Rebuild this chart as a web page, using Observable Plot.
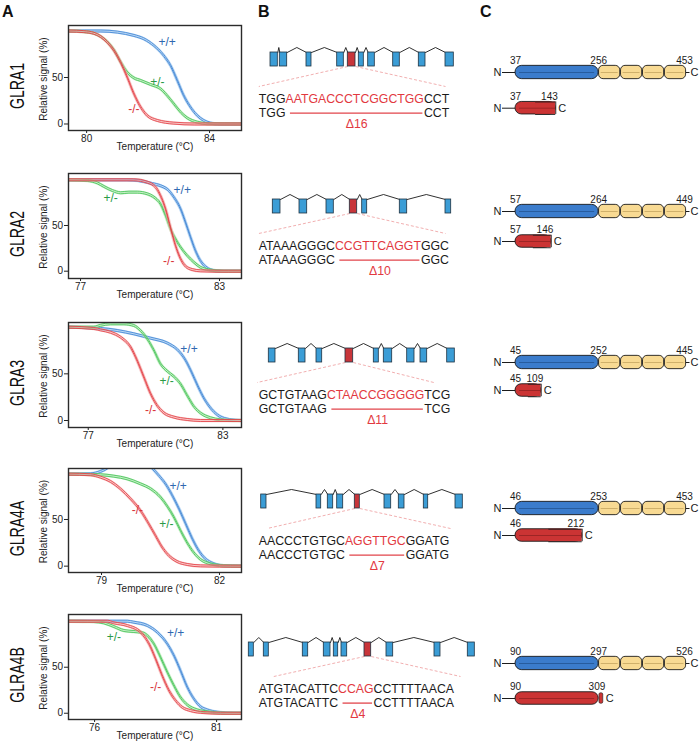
<!DOCTYPE html>
<html><head><meta charset="utf-8">
<script src="https://cdn.jsdelivr.net/npm/d3@7"></script>
<script src="https://cdn.jsdelivr.net/npm/@observablehq/plot@0.6"></script>
<style>
body{margin:0;background:#fff;}
#fig{position:relative;width:700px;height:744px;overflow:hidden;background:#fff;font-family:"Liberation Sans",Arial,Helvetica,sans-serif;}
.cell{position:absolute;}
.letter{position:absolute;font-weight:bold;font-size:16px;line-height:16px;color:#111;}
</style></head><body><div id="fig"></div>
<script>
// ---------------- DATA ----------------
const genes = ["GLRA1", "GLRA2", "GLRA3", "GLRA4A", "GLRA4B"];
const genotypes = ["+/+", "+/-", "-/-"];

// Panel A: melt curves [temperature °C, relative signal %]
const melt_GLRA1_wt = [[79.42,100],[80.46,100],[81.0,98.8],[81.54,95.2],[81.86,91.6],[82.19,84.4],[82.51,73.6],[82.73,62.9],[82.95,46.8],[83.16,30.6],[83.38,18.1],[83.6,9.1],[83.81,3.8],[84.03,0.9],[84.3,0],[85.04,0]];
const melt_GLRA1_het = [[79.42,100],[79.91,99.3],[80.24,97.5],[80.46,94],[80.67,88.5],[80.89,79.5],[81.11,66.5],[81.32,55.7],[81.54,49.5],[81.76,46.8],[82.08,42.5],[82.41,37.8],[82.62,30.6],[82.84,21.7],[83.06,12.7],[83.27,6.6],[83.6,2],[83.92,0.3],[85.04,0]];
const melt_GLRA1_ko = [[79.42,100],[79.91,99.3],[80.24,97.5],[80.46,94],[80.67,88],[80.89,79],[81.11,66],[81.32,50.4],[81.54,32.4],[81.76,18.1],[81.97,9.1],[82.3,3.8],[82.84,0.9],[83.5,0],[85.04,0]];

const melt_GLRA2_wt = [[76.48,100],[79.0,100],[80.02,96.4],[80.74,89.8],[81.03,81],[81.32,68.2],[81.53,53.6],[81.75,37.2],[81.96,22.6],[82.17,11.7],[82.46,3.6],[82.75,0.7],[83.1,0],[83.95,0]];
const melt_GLRA2_het = [[76.48,100],[77.29,99.3],[77.72,96.7],[78.01,92.7],[78.37,88.3],[78.73,85.8],[79.09,86.5],[79.45,86.5],[79.88,84.7],[80.17,81],[80.45,73.7],[80.67,61],[80.88,46.4],[81.1,35.4],[81.32,26.3],[81.6,17.2],[81.89,9.9],[82.17,4.4],[82.53,1.5],[82.89,0.4],[83.2,0],[83.95,0]];
const melt_GLRA2_ko = [[76.48,100],[79.3,100],[79.88,97.4],[80.24,92],[80.45,82.8],[80.67,68.2],[80.88,48.2],[81.1,28.1],[81.32,13.5],[81.53,5.5],[81.82,1.8],[82.17,0.4],[82.8,0],[83.95,0]];

const melt_GLRA3_wt = [[76.12,100],[77.55,98.6],[78.29,96.4],[79.03,92.9],[79.78,88.2],[80.52,83],[80.97,76],[81.3,66],[81.6,52],[81.9,36],[82.2,22],[82.5,12],[82.85,4.5],[83.3,1],[83.83,0]];
const melt_GLRA3_het = [[76.12,100],[77.25,100],[77.55,102],[77.99,103.6],[78.59,103.6],[79.03,101.8],[79.33,96.4],[79.63,87.5],[79.93,75],[80.22,60.7],[80.52,52.9],[80.82,47.1],[81.11,39.3],[81.41,26.8],[81.71,15],[82.01,7.9],[82.45,2.9],[82.9,0.7],[83.49,0],[83.83,0]];
const melt_GLRA3_ko = [[76.12,100],[77.25,98.6],[77.55,97.1],[77.99,94.6],[78.44,89.3],[78.89,78.6],[79.18,64.3],[79.48,46.4],[79.78,28.6],[80.07,16.1],[80.37,8.2],[80.82,3.6],[81.41,1.1],[82.0,0],[83.83,0]];

const melt_GLRA4A_wt = [[78.16,98.6],[78.72,98.9],[78.97,101.4],[79.14,105],[79.31,112],[79.65,120],[79.99,118],[80.29,105],[80.46,97],[80.63,88],[80.8,75.7],[80.97,61.4],[81.14,45.4],[81.31,29.3],[81.47,16.8],[81.64,7.9],[81.86,2.5],[82.11,0.4],[82.56,0]];
const melt_GLRA4A_het = [[78.16,98.6],[78.97,97.9],[79.31,96.4],[79.65,93.6],[79.99,88.2],[80.25,82.9],[80.5,73.9],[80.67,64.3],[80.84,52.5],[81.01,38.2],[81.18,25],[81.35,14.3],[81.52,7.1],[81.77,2.5],[82.11,0.4],[82.56,0]];
const melt_GLRA4A_ko = [[78.16,98.6],[78.72,97.9],[78.97,95.4],[79.23,90.7],[79.48,82.9],[79.74,72.1],[79.99,59.6],[80.2,45.4],[80.37,32.9],[80.54,20.4],[80.71,11.4],[80.92,5],[81.18,1.8],[81.52,0.3],[82.0,0],[82.56,0]];

const melt_GLRA4B_wt = [[74.93,100],[77.34,100],[77.61,98.9],[78.16,95.3],[78.57,88],[78.98,75.4],[79.25,62.7],[79.52,46.4],[79.8,28.3],[80.07,15.6],[80.34,7.2],[80.62,3.6],[81.03,1.1],[81.71,0],[82.02,0]];
const melt_GLRA4B_het = [[74.93,100],[75.97,99.6],[76.38,98.2],[76.79,94.2],[77.2,89.9],[77.61,88.8],[77.89,88],[78.16,84.4],[78.43,75.4],[78.7,60.9],[78.98,44.6],[79.25,30.1],[79.52,17.4],[79.8,9.1],[80.21,3.6],[80.75,1.1],[81.44,0],[82.02,0]];
const melt_GLRA4B_ko = [[74.93,100],[76.52,100],[76.79,98.2],[77.34,95.3],[77.89,88],[78.23,75.4],[78.5,59.1],[78.77,40.9],[79.05,24.6],[79.32,13.8],[79.59,6.5],[79.93,2.9],[80.48,0.7],[81.16,0],[82.02,0]];

const meltData = [
  [melt_GLRA1_wt, melt_GLRA1_het, melt_GLRA1_ko],
  [melt_GLRA2_wt, melt_GLRA2_het, melt_GLRA2_ko],
  [melt_GLRA3_wt, melt_GLRA3_het, melt_GLRA3_ko],
  [melt_GLRA4A_wt, melt_GLRA4A_het, melt_GLRA4A_ko],
  [melt_GLRA4B_wt, melt_GLRA4B_het, melt_GLRA4B_ko]
];
// genotype label anchor points [temperature, signal] for +/+, +/-, -/-
const genotypeLabelPos = [
  [[82.62,88],[82.3,45],[81.54,16.3]],
  [[81.39,89],[78.3,80],[80.81,11]],
  [[81.49,76],[80.49,41.8],[79.78,11.4]],
  [[80.95,85.4],[80.65,44.6],[79.91,59.6]],
  [[79.32,87],[76.79,82.6],[78.5,28.3]]
];
const tempDomains = [[79.41,85.04],[76.48,83.95],[76.12,83.83],[78.16,82.56],[74.93,82.02]];
const tempTicks = [[80,84],[77,83],[77,83],[79,82],[76,81]];
const signalDomains = [[-7,105.9],[-8,106.9],[-7.5,105],[-6.8,104.6],[-6.8,107.3]];
const signalTicks = [0, 50];

// Panel B: exon intervals along the gene (schematic units), targeted exon index, sequences
const exons_GLRA1 = [[30,37.3],[39.3,46.7],[66,71],[96.7,103.3],[107.3,115],[118.3,123.3],[127.7,134.3],[152.7,159.3],[178.3,185],[205,213.3]];
const exons_GLRA2 = [[32.3,40],[59,66.7],[86,93.3],[109.3,116.7],[121.7,126.7],[159.3,166.7],[205,210.7]];
const exons_GLRA3 = [[28.3,35],[58.3,65],[76,81.7],[105,112.7],[133.3,138.3],[143.3,151.7],[166.7,174],[180,186.7],[206.7,214.3]];
const exons_GLRA4A = [[20.7,26],[76,80.7],[87.3,92.7],[96.7,102.7],[114.3,119.3],[144,150.7],[158.3,164],[183.3,187.7],[215,222.3]];
const exons_GLRA4B = [[8.3,13.3],[23.3,28.3],[62.3,67.7],[83.3,90],[93.3,97.7],[101,106.7],[124,130.7],[146,152.7],[194,200],[227.3,234.3]];
const exonSets = [exons_GLRA1, exons_GLRA2, exons_GLRA3, exons_GLRA4A, exons_GLRA4B];
const targetExon = [4, 3, 3, 4, 6];
const guideEnds = [[18.3,205],[18.3,205],[16.7,193.3],[26.7,210],[33.3,220]];
const seqLeft = ["TGG", "ATAAAGGGC", "GCTGTAAG", "AACCCTGTGC", "ATGTACATTC"];
const seqDeleted = ["AATGACCCTCGGCTGG", "CCGTTCAGGT", "CTAACCGGGGG", "AGGTTGC", "CCAG"];
const seqRight = ["CCT", "GGC", "TCG", "GGATG", "CCTTTTAACA"];
const deletionLabels = ["Δ16", "Δ10", "Δ11", "Δ7", "Δ4"];

// Panel C: [ECD start, TM start, C-terminal residue] for wild type; truncated end residue
const proteinStart = [37, 57, 45, 46, 90];
const proteinTM = [256, 264, 252, 253, 297];
const proteinEnd = [453, 449, 445, 453, 526];
const truncatedEnd = [143, 146, 109, 212, 309];
const tmCount = 4;

// ---------------- LAYOUT / STYLE ----------------
const FONT = '"Liberation Sans", Arial, Helvetica, sans-serif';
const bandColor = {"+/+": "#8fc0ee", "+/-": "#a3e6a3", "-/-": "#f4a5a5"};
const lineColor = {"+/+": "#3a80d2", "+/-": "#3fc052", "-/-": "#e2393f"};
const labelColor = {"+/+": "#2f68b0", "+/-": "#2a9a47", "-/-": "#d8333b"};
const frameTops = [25, 173, 322, 468, 614];
const frameHeights = [105, 105, 105, 104, 105];
const exonTops = [51.7, 199.3, 348.3, 494.3, 641.7];
const protTops = [72.3, 211, 362, 508, 663.3];
const truncGap = [35.7, 30, 28, 27, 35];
const SCHEM_MAX = 2.056;           // schematic length: ECD = 1, TM region = 1.056
const protRange = [35, 206];       // pixel span of the wild-type protein within panel C

const fig = document.getElementById("fig");
function place(node, left, top) {
  const d = document.createElement("div");
  d.className = "cell"; d.style.left = left + "px"; d.style.top = top + "px";
  d.appendChild(node); fig.appendChild(d);
}
const ctx = document.createElement("canvas").getContext("2d");
function textWidth(s, size) { ctx.font = `${size}px "Liberation Sans", Arial, sans-serif`; return ctx.measureText(s).width; }
function textsMatching(svg, str) {
  return d3.select(svg).selectAll("text").filter(function () { return this.textContent === str; });
}

// ---------------- PANEL A ----------------
function meltChart(i) {
  const fh = frameHeights[i];
  const marks = [];
  genotypes.forEach((g, j) => {
    const rows = meltData[i][j].map(([t, v]) => ({t, v}));
    marks.push(Plot.line(rows, {x: "t", y: "v", stroke: bandColor[g], strokeWidth: 3.4, strokeOpacity: 0.6, curve: "monotone-x", clip: true}));
    marks.push(Plot.line(rows, {x: "t", y: "v", stroke: lineColor[g], strokeWidth: 0.8, dy: -1, curve: "monotone-x", clip: true}));
    marks.push(Plot.line(rows, {x: "t", y: "v", stroke: lineColor[g], strokeWidth: 0.8, dy: 1, curve: "monotone-x", clip: true}));
  });
  const labs = genotypes.map((g, j) => ({g, t: genotypeLabelPos[i][j][0], v: genotypeLabelPos[i][j][1]}));
  genotypes.forEach(g => marks.push(Plot.text(labs.filter(d => d.g === g), {x: "t", y: "v", text: "g", fill: labelColor[g], fontSize: 12})));
  marks.push(Plot.frame({stroke: "#2b2b2b", strokeWidth: 1.4}));
  marks.push(Plot.text(["Relative signal (%)"], {frameAnchor: "left", textAnchor: "middle", lineAnchor: "middle", rotate: -90, dx: -25, dy: 1, fontSize: 10, fill: "#222"}));
  marks.push(Plot.text(["Temperature (°C)"], {frameAnchor: "bottom", textAnchor: "middle", lineAnchor: "middle", dy: 16, fontSize: 10, fill: "#222"}));
  marks.push(Plot.text([genes[i]], {frameAnchor: "left", textAnchor: "middle", lineAnchor: "middle", rotate: -90, dx: -51.5, dy: 8, fontSize: 21, fill: "#111"}));
  const svg = Plot.plot({
    width: 245, height: 10 + fh + 24,
    marginTop: 10, marginBottom: 24, marginLeft: 68, marginRight: 4,
    style: {fontFamily: FONT, fontSize: "10px", color: "#222", background: "transparent", overflow: "visible"},
    x: {domain: tempDomains[i], ticks: tempTicks[i], tickSize: 3, tickPadding: 1.5, label: null, tickFormat: d => String(d)},
    y: {domain: signalDomains[i], ticks: signalTicks, tickSize: 4, tickPadding: 1.5, label: null, tickFormat: d => String(d)},
    marks
  });
  const natural = textWidth(genes[i], 21);
  textsMatching(svg, genes[i]).attr("textLength", natural * 0.67).attr("lengthAdjust", "spacingAndGlyphs");
  return svg;
}

// ---------------- PANEL B ----------------
function geneChart(i) {
  const T = 20, H = 14, FS = 12.3;
  const ex = exonSets[i].map(([a, b], k) => ({a, b, target: k === targetExon[i]}));
  const introns = [];
  for (let k = 0; k < ex.length - 1; k++) {
    const a = ex[k].b, b = ex[k + 1].a;
    introns.push({k, x: a, y: T}, {k, x: (a + b) / 2, y: T - 5}, {k, x: b, y: T});
  }
  const tgt = ex[targetExon[i]];
  const x0 = 18.3;
  const full = seqLeft[i] + seqDeleted[i] + seqRight[i];
  const w1 = textWidth(full, FS), wL = textWidth(seqLeft[i], FS), wR = textWidth(seqRight[i], FS);
  const xEnd = x0 + w1;
  const dl1 = x0 + wL + 5, dl2 = xEnd - wR - 1;
  const guides = [
    {x1: tgt.a, y1: T + H, x2: guideEnds[i][0], y2: 54},
    {x1: tgt.b, y1: T + H, x2: guideEnds[i][1], y2: 54}
  ];
  const svg = Plot.plot({
    width: 240, height: 104, margin: 0,
    style: {fontFamily: FONT, fontSize: FS + "px", color: "#1a1a1a", background: "transparent", overflow: "visible"},
    x: {domain: [0, 240], range: [0, 240], axis: null},
    y: {domain: [0, 104], range: [0, 104], axis: null},
    marks: [
      Plot.link(guides, {x1: "x1", y1: "y1", x2: "x2", y2: "y2", stroke: "#ee9a9c", strokeWidth: 0.8, strokeDasharray: "3,2"}),
      Plot.line(introns, {x: "x", y: "y", z: "k", stroke: "#1a1a1a", strokeWidth: 0.9}),
      Plot.rect(ex, {x1: "a", x2: "b", y1: T, y2: T + H, fill: d => d.target ? "#c8353a" : "#3b9dd6", stroke: "#1f3342", strokeWidth: 0.8}),
      Plot.text([full], {x: x0, y: 70, text: d => d, textAnchor: "start", lineAnchor: "bottom", fontSize: FS, fill: "#1a1a1a"}),
      Plot.text([seqLeft[i]], {x: x0, y: 84.3, text: d => d, textAnchor: "start", lineAnchor: "bottom", fontSize: FS, fill: "#1a1a1a"}),
      Plot.text([seqRight[i]], {x: xEnd, y: 84.3, text: d => d, textAnchor: "end", lineAnchor: "bottom", fontSize: FS, fill: "#1a1a1a"}),
      Plot.ruleY([80.6], {x1: dl1, x2: dl2, stroke: "#e2454b", strokeWidth: 1.3}),
      Plot.text([deletionLabels[i]], {x: (dl1 + dl2) / 2, y: 95.3, text: d => d, lineAnchor: "bottom", fontSize: FS, fill: "#e2393f"})
    ]
  });
  textsMatching(svg, full).each(function () {
    const t = d3.select(this); t.text("");
    t.append("tspan").attr("fill", "#1a1a1a").text(seqLeft[i]);
    t.append("tspan").attr("fill", "#e2393f").text(seqDeleted[i]);
    t.append("tspan").attr("fill", "#1a1a1a").text(seqRight[i]);
  });
  return svg;
}

// ---------------- PANEL C ----------------
function proteinChart(i) {
  const s = proteinStart[i], tm = proteinTM[i], e = proteinEnd[i], te = truncatedEnd[i];
  // residue number -> schematic coordinate (ECD drawn as 1 unit, TM region as 1.056 units)
  const u = d3.scaleLinear().domain([s, tm, e]).range([0, 1, SCHEM_MAX]);
  const px = d3.scaleLinear().domain([0, SCHEM_MAX]).range(protRange);
  const nStub = px.invert(22), cStub = px.invert(209.5);
  const uS = u(s), uTM = u(tm), uE = u(e), uTE = u(te);
  const tms = d3.range(tmCount).map(k => ({a: u(tm + k * (e - tm) / tmCount), b: u(tm + (k + 1) * (e - tm) / tmCount)}));
  const yF = 22, yT = 22 + truncGap[i], h = 13.3, ht = 12.5;
  const dark = "#1b1b1b", blue = "#3b7ccc", yellow = "#f8da93", red = "#cb3434";
  const marks = [
    Plot.ruleY([yF], {x1: nStub, x2: uS, stroke: dark, strokeWidth: 1}),
    Plot.ruleY([yF], {x1: uE, x2: cStub, stroke: dark, strokeWidth: 1}),
    Plot.rect(tms, {x1: "a", x2: "b", y1: yF - h / 2, y2: yF + h / 2, rx: 4.5, insetLeft: 0.4, insetRight: 0.4, fill: yellow, stroke: dark, strokeWidth: 0.9}),
    Plot.ruleY(tms, {x1: "a", x2: "b", y: yF, insetLeft: 2.5, insetRight: 2.5, stroke: "#b39450", strokeWidth: 0.6}),
    Plot.rect([0], {x1: uS, x2: uTM, y1: yF - h / 2, y2: yF + h / 2, rx: h / 2, fill: blue, stroke: dark, strokeWidth: 0.9}),
    Plot.ruleY([yF], {x1: uS, x2: uTM, insetLeft: 4, insetRight: 4, stroke: "#1f4f8a", strokeWidth: 0.7}),
    Plot.text(["N"], {x: nStub, y: yF, textAnchor: "end", dx: -1, fontSize: 11, fill: dark}),
    Plot.text(["C"], {x: cStub, y: yF, textAnchor: "start", dx: 0.5, fontSize: 11, fill: dark}),
    Plot.text([s], {x: uS, y: yF - h / 2 - 2.3, text: d => d, lineAnchor: "bottom", fontSize: 10, fill: dark}),
    Plot.text([tm], {x: uTM, y: yF - h / 2 - 2.3, text: d => d, lineAnchor: "bottom", fontSize: 10, fill: dark}),
    Plot.text([e], {x: uE, y: yF - h / 2 - 2.3, text: d => d, dx: -2, lineAnchor: "bottom", fontSize: 10, fill: dark}),
    Plot.ruleY([yT], {x1: nStub, x2: uS, stroke: dark, strokeWidth: 1}),
    Plot.text(["N"], {x: nStub, y: yT, textAnchor: "end", dx: -1, fontSize: 11, fill: dark}),
    Plot.text([s], {x: uS, y: yT - ht / 2 - 2.3, text: d => d, lineAnchor: "bottom", fontSize: 10, fill: dark}),
    Plot.text([te], {x: uTE, y: yT - ht / 2 - 2.3, text: d => d, textAnchor: "end", dx: 2, lineAnchor: "bottom", fontSize: 10, fill: dark})
  ];
  if (te <= tm) {
    const mid = (uS + uTE) / 2;
    marks.push(
      Plot.rect([0], {x1: uS, x2: uTE, y1: yT - ht / 2, y2: yT + ht / 2, rx: ht / 2, fill: red, stroke: dark, strokeWidth: 0.9}),
      Plot.rect([0], {x1: mid, x2: uTE, y1: yT - ht / 2, y2: yT + ht / 2, fill: red}),
      Plot.ruleY([yT - ht / 2, yT + ht / 2], {x1: mid, x2: uTE, stroke: dark, strokeWidth: 0.9}),
      Plot.ruleX([uTE], {y1: yT - ht / 2, y2: yT + ht / 2, stroke: dark, strokeWidth: 0.9}),
      Plot.ruleY([yT], {x1: uS, x2: uTE, insetLeft: 4, stroke: "#8a1f1f", strokeWidth: 0.7}),
      Plot.text(["C"], {x: uTE, y: yT, textAnchor: "start", dx: 2.5, fontSize: 11, fill: dark})
    );
  } else {
    marks.push(
      Plot.rect([0], {x1: uS, x2: uTM, y1: yT - ht / 2, y2: yT + ht / 2, rx: ht / 2, fill: red, stroke: dark, strokeWidth: 0.9}),
      Plot.ruleY([yT], {x1: uS, x2: uTM, insetLeft: 4, insetRight: 4, stroke: "#8a1f1f", strokeWidth: 0.7}),
      Plot.rect([0], {x1: uTM, x2: uTE, y1: yT - ht / 2 + 1, y2: yT + ht / 2 - 1, insetLeft: 0.8, rx: 1.5, fill: red, stroke: dark, strokeWidth: 0.6}),
      Plot.text(["C"], {x: uTE, y: yT, textAnchor: "start", dx: 2.5, fontSize: 11, fill: dark})
    );
  }
  return Plot.plot({
    width: 220, height: 72, margin: 0,
    style: {fontFamily: FONT, fontSize: "10px", color: dark, background: "transparent", overflow: "visible"},
    x: {domain: [0, SCHEM_MAX], range: protRange, axis: null},
    y: {domain: [0, 72], range: [0, 72], axis: null},
    marks
  });
}

// ---------------- ASSEMBLE ----------------
genes.forEach((g, i) => {
  place(meltChart(i), 0, frameTops[i] - 10);
  place(geneChart(i), 240, exonTops[i] - 20);
  place(proteinChart(i), 480, protTops[i] - 22);
});
[["A", 2], ["B", 258], ["C", 480]].forEach(([t, x]) => {
  const d = document.createElement("div");
  d.className = "letter"; d.textContent = t; d.style.left = x + "px"; d.style.top = "4px";
  fig.appendChild(d);
});
</script>
</body></html>
